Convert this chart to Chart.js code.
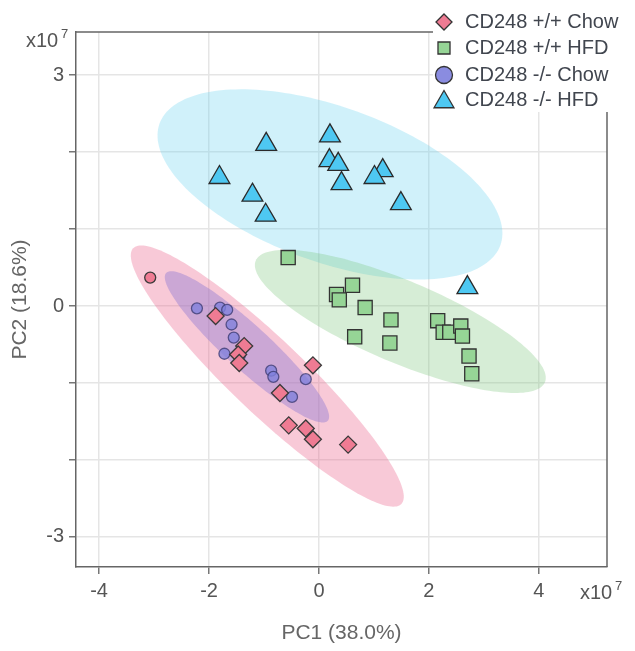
<!DOCTYPE html>
<html>
<head>
<meta charset="utf-8">
<script src="https://cdn.jsdelivr.net/npm/chart.js@4.4.1/dist/chart.umd.min.js"></script>
<style>
html,body{margin:0;padding:0;background:#fff;}
canvas{display:block;}
</style>
</head>
<body>
<canvas id="c" width="635" height="651"></canvas>
<script>
// ---- data (units of 1e7) ----
const seriesNames = ['CD248 +/+ Chow', 'CD248 +/+ HFD', 'CD248 -/- Chow', 'CD248 -/- HFD'];

const chowWT_x = [-3.07, -1.88, -1.36, -1.47, -1.45, -0.11, -0.71, -0.55, -0.24, -0.11, 0.53];
const chowWT_y = [0.37, -0.13, -0.52, -0.63, -0.74, -0.77, -1.13, -1.55, -1.59, -1.73, -1.80];

const hfdWT_x = [-0.56, 0.32, 0.61, 0.37, 0.84, 1.31, 0.65, 1.29, 2.16, 2.26, 2.38, 2.58, 2.61, 2.73, 2.78];
const hfdWT_y = [0.63, 0.15, 0.27, 0.08, -0.02, -0.18, -0.40, -0.48, -0.19, -0.34, -0.34, -0.26, -0.39, -0.65, -0.88];

const chowKO_x = [-2.22, -1.80, -1.67, -1.59, -1.55, -1.72, -1.44, -0.87, -0.83, -0.24, -0.49];
const chowKO_y = [-0.03, -0.02, -0.05, -0.24, -0.41, -0.62, -0.64, -0.84, -0.92, -0.95, -1.18];

const hfdKO_x = [-0.96, 0.20, 0.19, 0.35, -1.81, -1.21, -0.97, 0.41, 1.16, 1.01, 1.49, 2.70];
const hfdKO_y = [2.10, 2.21, 1.89, 1.84, 1.67, 1.44, 1.18, 1.59, 1.76, 1.67, 1.33, 0.24];

// confidence ellipses: centre, semi-major and semi-minor vectors (data units)
const ellipseCenterX = [0.20, 1.48, -0.94, -1.31];
const ellipseCenterY = [1.58, -0.20, -0.91, -0.53];
const ellipseMajorX  = [3.10, 2.63, 2.44, 1.47];
const ellipseMajorY  = [-0.79, -0.79, -1.66, -0.96];
const ellipseMinorX  = [-0.48, -0.29, -0.46, -0.27];
const ellipseMinorY  = [-0.95, -0.49, -0.35, -0.21];

const xTickValues = [-4, -2, 0, 2, 4];
const yTickValues = [-3, -2, -1, 0, 1, 2, 3];
const yLabelValues = [-3, 0, 3];

// ---- styles ----
const FONT = "'Liberation Sans', Arial, Helvetica, sans-serif";
const ellipseColors = ['rgba(100,210,240,0.30)', 'rgba(120,195,120,0.30)', 'rgba(235,100,140,0.35)', 'rgba(140,120,210,0.42)'];
const markerFill = ['#ef7b93', '#96d596', 'rgba(128,130,222,0.78)', '#4ec8f2'];
const markerBorder = ['#3a3a3a', '#333333', 'rgba(55,55,110,0.75)', '#2a2a2a'];

function pts(xs, ys){ return xs.map((x,i)=>({x:x, y:ys[i]})); }

const ellipsePlugin = {
  id:'ellipses',
  beforeDatasetsDraw(chart){
    const {ctx, chartArea:a, scales:{x:xs, y:ys}} = chart;
    ctx.save();
    ctx.beginPath(); ctx.rect(a.left, a.top, a.right-a.left, a.bottom-a.top); ctx.clip();
    for(let k=0;k<ellipseCenterX.length;k++){
      ctx.beginPath();
      for(let s=0;s<=180;s++){
        const t = s/180*2*Math.PI;
        const dx = ellipseCenterX[k] + ellipseMajorX[k]*Math.cos(t) + ellipseMinorX[k]*Math.sin(t);
        const dy = ellipseCenterY[k] + ellipseMajorY[k]*Math.cos(t) + ellipseMinorY[k]*Math.sin(t);
        const px = xs.getPixelForValue(dx), py = ys.getPixelForValue(dy);
        if(s===0) ctx.moveTo(px,py); else ctx.lineTo(px,py);
      }
      ctx.closePath();
      ctx.fillStyle = ellipseColors[k];
      ctx.fill();
    }
    ctx.restore();
  }
};

function drawMarker(ctx, style, x, y, r, fill, stroke){
  ctx.beginPath();
  if(style==='circle'){ ctx.arc(x,y,r,0,2*Math.PI); }
  else if(style==='rect'){ const s=r*Math.SQRT1_2; ctx.rect(x-s,y-s,2*s,2*s); }
  else if(style==='rectRot'){ ctx.moveTo(x,y-r); ctx.lineTo(x+r,y); ctx.lineTo(x,y+r); ctx.lineTo(x-r,y); ctx.closePath(); }
  else if(style==='triangle'){ ctx.moveTo(x,y-r); ctx.lineTo(x+r*0.866,y+r*0.5); ctx.lineTo(x-r*0.866,y+r*0.5); ctx.closePath(); }
  ctx.fillStyle=fill; ctx.fill();
  ctx.lineWidth=1.3; ctx.strokeStyle=stroke; ctx.stroke();
}

const framePlugin = {
  id:'frame',
  afterDraw(chart){
    const {ctx, chartArea:a} = chart;
    ctx.save();
    ctx.strokeStyle='#666'; ctx.lineWidth=1.5;
    ctx.beginPath();
    ctx.moveTo(a.left, a.top); ctx.lineTo(a.right, a.top); ctx.lineTo(a.right, a.bottom);
    ctx.stroke();
    // legend box
    ctx.fillStyle='#fff';
    ctx.fillRect(433, 0, 635-433, 112);
    const styles=['rectRot','rect','circle','triangle'];
    const radii=[8,8.5,8.5,11.5];
    const rowsY=[22,48,75,100];
    for(let i=0;i<4;i++){
      const my = styles[i]==='triangle' ? rowsY[i]+2 : rowsY[i];
      drawMarker(ctx, styles[i], 444, my, radii[i], i===2 ? '#8a8ce0' : markerFill[i], '#333');
      ctx.fillStyle='#41464f';
      ctx.font='20px '+FONT;
      ctx.textBaseline='middle'; ctx.textAlign='left';
      ctx.fillText(seriesNames[i], 465, rowsY[i]);
    }
    // x10^7 labels
    ctx.fillStyle='#555';
    ctx.textBaseline='alphabetic'; ctx.textAlign='left';
    ctx.font='20px '+FONT; ctx.fillText('x10', 26, 47);
    ctx.font='13px '+FONT; ctx.fillText('7', 61, 38);
    ctx.font='20px '+FONT; ctx.fillText('x10', 580, 599);
    ctx.font='13px '+FONT; ctx.fillText('7', 615, 590);
    ctx.restore();
  }
};

const chowWTStyles = chowWT_x.map((v,i)=> i===0 ? 'circle' : 'rectRot');
const chowWTRadius = chowWT_x.map((v,i)=> i===0 ? 5.5 : 8.5);

new Chart(document.getElementById('c'), {
  type:'scatter',
  data:{
    datasets:[
      {label:seriesNames[0], data:pts(chowWT_x, chowWT_y), pointStyle:chowWTStyles, pointRadius:chowWTRadius,
       backgroundColor:markerFill[0], borderColor:markerBorder[0], borderWidth:1.3},
      {label:seriesNames[1], data:pts(hfdWT_x, hfdWT_y), pointStyle:'rect', pointRadius:10,
       backgroundColor:markerFill[1], borderColor:markerBorder[1], borderWidth:1.3},
      {label:seriesNames[2], data:pts(chowKO_x, chowKO_y), pointStyle:'circle', pointRadius:5.5,
       backgroundColor:markerFill[2], borderColor:markerBorder[2], borderWidth:1.3},
      {label:seriesNames[3], data:pts(hfdKO_x, hfdKO_y), pointStyle:'triangle', pointRadius:12,
       backgroundColor:markerFill[3], borderColor:markerBorder[3], borderWidth:1.3}
    ]
  },
  options:{
    responsive:false, animation:false, devicePixelRatio:1,
    layout:{padding:{top:32, right:28, left:0, bottom:0}},
    plugins:{legend:{display:false}, tooltip:{enabled:false}},
    scales:{
      x:{
        type:'linear', min:-4.42, max:5.24,
        afterBuildTicks:s=>{ s.ticks = xTickValues.map(v=>({value:v})); },
        afterFit:s=>{ s.height = 84; },
        grid:{color:'#e5e5e5', lineWidth:1.5, tickLength:7, tickColor:'#777', tickWidth:1.5},
        border:{color:'#666', width:1.5},
        ticks:{font:{size:20, family:FONT}, color:'#555', padding:5, maxRotation:0},
        title:{display:true, text:'PC1 (38.0%)', font:{size:21, family:FONT}, color:'#666', padding:{top:4, bottom:5}}
      },
      y:{
        type:'linear', min:-3.39, max:3.56,
        afterBuildTicks:s=>{ s.ticks = yTickValues.map(v=>({value:v})); },
        afterFit:s=>{ s.width = 76; },
        grid:{color:'#e5e5e5', lineWidth:1.5, tickLength:7, tickColor:'#777', tickWidth:1.5},
        border:{color:'#666', width:1.5},
        ticks:{font:{size:20, family:FONT}, color:'#555', padding:5,
               callback:v=> yLabelValues.includes(v) ? String(v) : ''},
        title:{display:true, text:'PC2 (18.6%)', font:{size:21, family:FONT}, color:'#666', padding:{top:8, bottom:4}}
      }
    }
  },
  plugins:[ellipsePlugin, framePlugin]
});
</script>
</body>
</html>
